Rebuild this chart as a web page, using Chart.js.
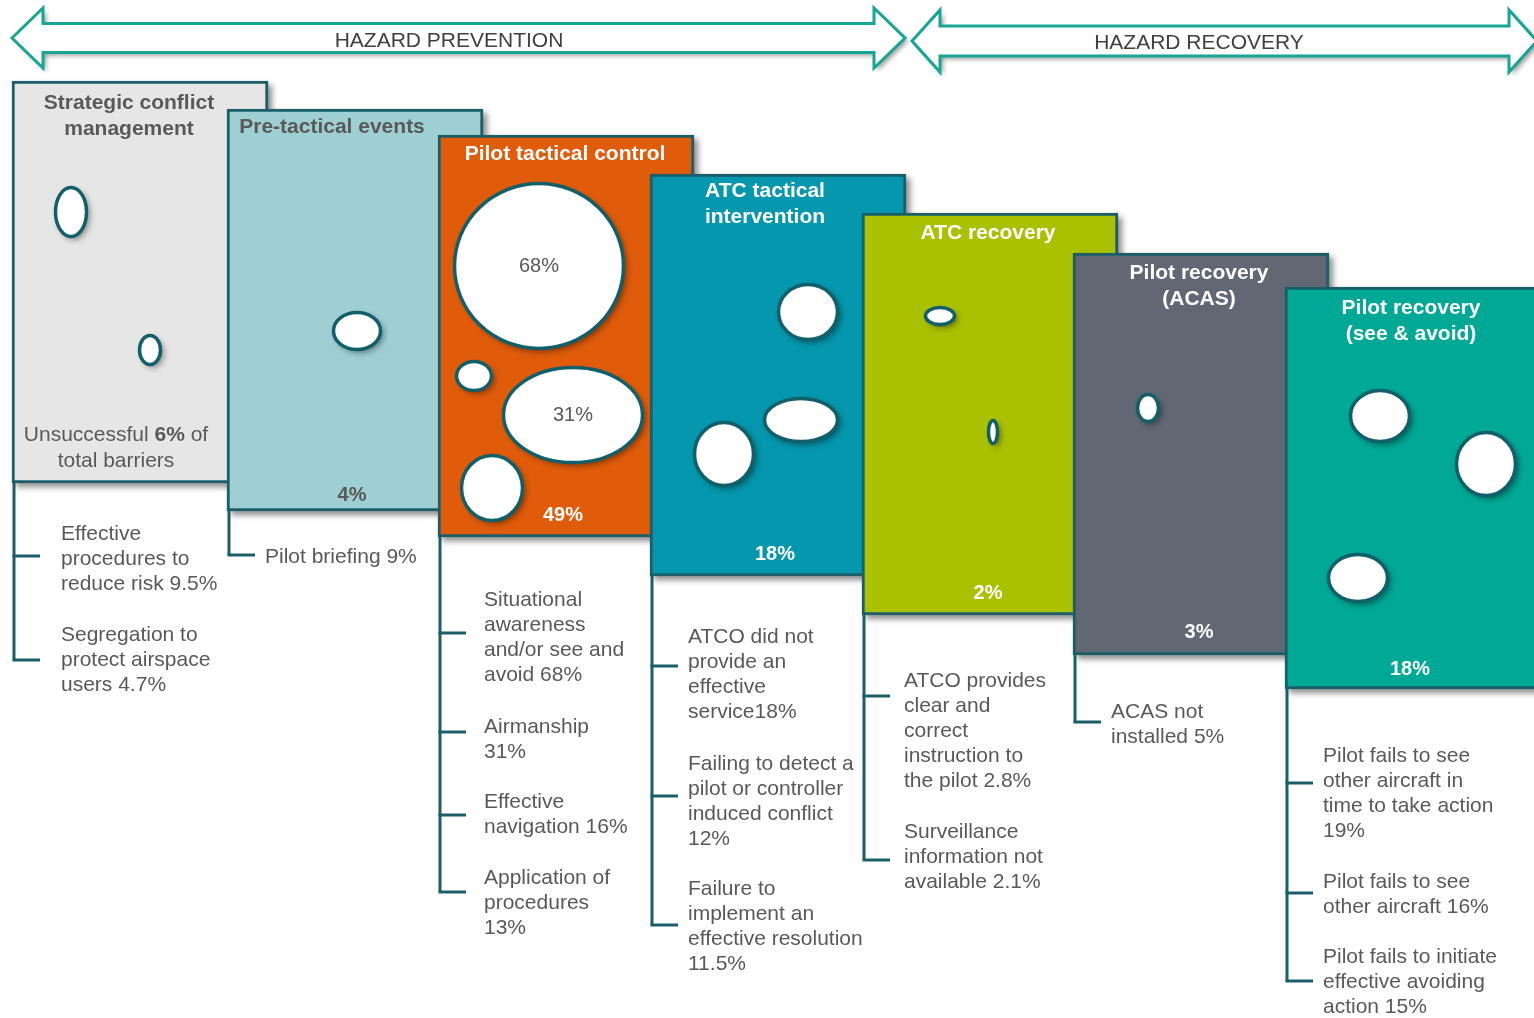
<!DOCTYPE html>
<html>
<head>
<meta charset="utf-8">
<title>Safety barriers</title>
<script src="https://cdn.jsdelivr.net/npm/chart.js@4.4.0/dist/chart.umd.min.js"></script>
<style>
  html, body { margin: 0; padding: 0; background: #fff; }
  #wrap { width: 1534px; height: 1018px; position: relative; }
</style>
</head>
<body>
<div id="wrap"><canvas id="barrierChart"></canvas></div>
<script>
// Barriers, their share of total failures and the contributing factors below each one
const barrierTitles = [
  ['Strategic conflict', 'management'],
  ['Pre-tactical events'],
  ['Pilot tactical control'],
  ['ATC tactical', 'intervention'],
  ['ATC recovery'],
  ['Pilot recovery', '(ACAS)'],
  ['Pilot recovery', '(see & avoid)']
];
const barrierShares = [6, 4, 49, 18, 2, 3, 18];
const barrierColors = ['#e6e6e6', '#9ecfd3', '#e05c0b', '#0597ad', '#a9c100', '#626873', '#00a896'];
const barrierTextColors = ['#595959', '#595959', '#fff', '#fff', '#fff', '#fff', '#fff'];

const barrierFactors = [
  [['Effective', 'procedures to', 'reduce risk 9.5%'], ['Segregation to', 'protect airspace', 'users 4.7%']],
  [['Pilot briefing 9%']],
  [['Situational', 'awareness', 'and/or see and', 'avoid 68%'], ['Airmanship', '31%'], ['Effective', 'navigation 16%'], ['Application of', 'procedures', '13%']],
  [['ATCO did not', 'provide an', 'effective', 'service18%'], ['Failing to detect a', 'pilot or controller', 'induced conflict', '12%'], ['Failure to', 'implement an', 'effective resolution', '11.5%']],
  [['ATCO provides', 'clear and', 'correct', 'instruction to', 'the pilot 2.8%'], ['Surveillance', 'information not', 'available 2.1%']],
  [['ACAS not', 'installed 5%']],
  [['Pilot fails to see', 'other aircraft in', 'time to take action', '19%'], ['Pilot fails to see', 'other aircraft 16%'], ['Pilot fails to initiate', 'effective avoiding', 'action 15%']]
];

// bubbles: barrier index, centre, horizontal / vertical radius, optional label
const bubbleBarrier = [0, 0, 1, 2, 2, 2, 2, 3, 3, 3, 4, 4, 5, 6, 6, 6];
const bubbleX = [71, 150, 357, 539, 474, 573, 492, 808, 801, 724, 940, 993, 1148, 1380, 1486, 1358];
const bubbleY = [212, 350, 331, 266, 376, 415, 488, 312, 420, 454, 316, 432, 408, 416, 464, 578];
const bubbleRx = [17, 12, 25, 86, 19, 71, 32, 31, 38, 31, 16, 6, 12, 31, 31, 31];
const bubbleRy = [26, 16, 20, 84, 16, 49, 34, 29, 23, 33, 10, 13, 15, 27, 33, 25];
const bubbleLabels = ['', '', '', '68%', '', '31%', '', '', '', '', '', '', '', '', '', ''];

// panel layout
const panelLeft = [12, 227, 438, 650, 862, 1073, 1285];
const panelTop = [81, 109, 135, 174, 213, 253, 287];
const panelWidth = 256;
const panelHeight = 402;
const titleY = [103, 127, 154, 191, 233, 273, 308];
const titleX = [129, 332, 565, 765, 988, 1199, 1411];
const shareX = [116, 352, 563, 775, 988, 1199, 1410];
const shareY = [435, 495, 515, 554, 593, 632, 669];
const factorTextX = [61, 265, 484, 688, 904, 1111, 1323];
const factorTextY = [[534, 635], [557], [600, 727, 802, 878], [637, 764, 889], [681, 832], [712], [756, 882, 957]];
const factorTickY = [[556, 660], [555], [633, 732, 815, 892], [666, 796, 925], [696, 860], [722], [783, 893, 981]];

const BORDER = '#1a5e6a';
const FONT = '"Liberation Sans", Arial, sans-serif';
const LINE_H = 25;

function bubbleImage(rx, ry) {
  const pad = 12;
  const c = document.createElement('canvas');
  c.width = 2 * (rx + pad);
  c.height = 2 * (ry + pad);
  const g = c.getContext('2d');
  g.save();
  g.shadowColor = 'rgba(0,0,0,0.45)';
  g.shadowBlur = 6;
  g.shadowOffsetX = 3;
  g.shadowOffsetY = 3;
  g.beginPath();
  g.ellipse(rx + pad, ry + pad, rx - 1.5, ry - 1.5, 0, 0, Math.PI * 2);
  g.fillStyle = '#fff';
  g.fill();
  g.restore();
  g.lineWidth = 3.5;
  g.strokeStyle = '#115f69';
  g.stroke();
  return c;
}
const bubbleImages = bubbleRx.map((rx, i) => bubbleImage(rx, bubbleRy[i]));

function drawArrow(ctx, x0, x1, yc, headHalf, bodyHalf, headLen) {
  ctx.save();
  ctx.beginPath();
  ctx.moveTo(x0, yc);
  ctx.lineTo(x0 + headLen, yc - headHalf);
  ctx.lineTo(x0 + headLen, yc - bodyHalf);
  ctx.lineTo(x1 - headLen, yc - bodyHalf);
  ctx.lineTo(x1 - headLen, yc - headHalf);
  ctx.lineTo(x1, yc);
  ctx.lineTo(x1 - headLen, yc + headHalf);
  ctx.lineTo(x1 - headLen, yc + bodyHalf);
  ctx.lineTo(x0 + headLen, yc + bodyHalf);
  ctx.lineTo(x0 + headLen, yc + headHalf);
  ctx.closePath();
  ctx.shadowColor = 'rgba(0,0,0,0.4)';
  ctx.shadowBlur = 5;
  ctx.shadowOffsetX = 3;
  ctx.shadowOffsetY = 3;
  ctx.fillStyle = '#fff';
  ctx.fill();
  ctx.shadowColor = 'transparent';
  ctx.lineWidth = 3;
  ctx.lineJoin = 'miter';
  ctx.strokeStyle = '#17a596';
  ctx.stroke();
  ctx.restore();
}

function text(ctx, str, x, y, font, color, align) {
  ctx.font = font;
  ctx.fillStyle = color;
  ctx.textAlign = align || 'center';
  ctx.textBaseline = 'middle';
  ctx.fillText(str, x, y);
}

const decorPlugin = {
  id: 'decor',
  beforeDatasetsDraw(chart) {
    const ctx = chart.ctx;
    const xs = chart.scales.x, ys = chart.scales.y;
    // direction arrows
    drawArrow(ctx, xs.getPixelForValue(12), xs.getPixelForValue(905), ys.getPixelForValue(38), 30, 14.5, 31);
    drawArrow(ctx, xs.getPixelForValue(912), xs.getPixelForValue(1537), ys.getPixelForValue(41), 31, 15, 28);
    text(ctx, 'HAZARD PREVENTION', xs.getPixelForValue(449), ys.getPixelForValue(41), '21px ' + FONT, '#404040');
    text(ctx, 'HAZARD RECOVERY', xs.getPixelForValue(1199), ys.getPixelForValue(43), '21px ' + FONT, '#404040');

    // panel drop shadows, drawn before every panel so overlaps stay clean
    const bars = chart.getDatasetMeta(1).data;
    ctx.save();
    ctx.shadowColor = 'rgba(0,0,0,0.45)';
    ctx.shadowBlur = 6;
    ctx.shadowOffsetX = 4;
    ctx.shadowOffsetY = 4;
    ctx.fillStyle = '#fff';
    bars.forEach(b => {
      const p = b.getProps(['x', 'y', 'base', 'width']);
      ctx.fillRect(p.x - p.width / 2, Math.min(p.y, p.base), p.width, Math.abs(p.base - p.y));
    });
    ctx.restore();

    // factor brackets and lists
    ctx.save();
    ctx.strokeStyle = BORDER;
    ctx.lineWidth = 3;
    barrierFactors.forEach((items, i) => {
      const bx = xs.getPixelForValue(panelLeft[i] + 2);
      const ticks = factorTickY[i];
      ctx.beginPath();
      ctx.moveTo(bx, ys.getPixelForValue(panelTop[i] + panelHeight));
      ctx.lineTo(bx, ys.getPixelForValue(ticks[ticks.length - 1]));
      ctx.stroke();
      ticks.forEach(t => {
        ctx.beginPath();
        ctx.moveTo(bx - 1.5, ys.getPixelForValue(t));
        ctx.lineTo(bx + 26, ys.getPixelForValue(t));
        ctx.stroke();
      });
      items.forEach((lines, k) => {
        lines.forEach((ln, j) => {
          text(ctx, ln, xs.getPixelForValue(factorTextX[i]), ys.getPixelForValue(factorTextY[i][k] + j * LINE_H),
            '21px ' + FONT, '#595959', 'left');
        });
      });
    });
    ctx.restore();
  },
  afterDatasetDraw(chart, args) {
    if (args.index !== 1) return;
    const ctx = chart.ctx;
    const xs = chart.scales.x, ys = chart.scales.y;
    // panel titles and totals
    barrierTitles.forEach((lines, i) => {
      lines.forEach((ln, j) => {
        text(ctx, ln, xs.getPixelForValue(titleX[i]), ys.getPixelForValue(titleY[i] + j * 26),
          'bold 21px ' + FONT, barrierTextColors[i]);
      });
      if (i > 0) {
        text(ctx, barrierShares[i] + '%', xs.getPixelForValue(shareX[i]),
          ys.getPixelForValue(shareY[i]), 'bold 20px ' + FONT, barrierTextColors[i]);
      }
    });
    // first panel states its total inside a sentence
    const y1 = ys.getPixelForValue(shareY[0]), y2 = ys.getPixelForValue(shareY[0] + 26);
    const cx = xs.getPixelForValue(shareX[0]);
    const parts = [['Unsuccessful ', '21px '], [barrierShares[0] + '%', 'bold 21px '], [' of', '21px ']];
    let total = 0;
    parts.forEach(p => { ctx.font = p[1] + FONT; total += ctx.measureText(p[0]).width; });
    let x = cx - total / 2;
    parts.forEach(p => {
      text(ctx, p[0], x, y1, p[1] + FONT, '#595959', 'left');
      ctx.font = p[1] + FONT;
      x += ctx.measureText(p[0]).width;
    });
    text(ctx, 'total barriers', cx, y2, '21px ' + FONT, '#595959');
  },
  afterDatasetsDraw(chart) {
    const ctx = chart.ctx;
    const pts = chart.getDatasetMeta(0).data;
    bubbleLabels.forEach((lbl, i) => {
      if (lbl) text(ctx, lbl, pts[i].x, pts[i].y, '20px ' + FONT, '#595959');
    });
  }
};

const bubblePoints = bubbleX.map((x, i) => ({ x: x, y: bubbleY[i] }));
const panelBars = panelLeft.map((l, i) => ({ x: l + panelWidth / 2, y: [panelTop[i] + panelHeight, panelTop[i]] }));

new Chart(document.getElementById('barrierChart'), {
  data: {
    datasets: [
      {
        type: 'scatter',
        label: 'Failures',
        data: bubblePoints,
        order: 1,
        pointStyle: ctx => bubbleImages[ctx.dataIndex],
        pointRadius: ctx => Math.max(bubbleRx[ctx.dataIndex], bubbleRy[ctx.dataIndex]),
        clip: false
      },
      {
        type: 'bar',
        label: 'Barriers',
        data: panelBars,
        order: 2,
        backgroundColor: barrierColors,
        borderColor: BORDER,
        borderWidth: 3,
        borderSkipped: false,
        barThickness: panelWidth,
        clip: false
      }
    ]
  },
  options: {
    responsive: true,
    maintainAspectRatio: false,
    animation: false,
    events: [],
    layout: { padding: 0, autoPadding: false },
    plugins: { legend: { display: false }, tooltip: { enabled: false } },
    scales: {
      x: { type: 'linear', min: 0, max: 1534, offset: false, display: false },
      y: { type: 'linear', min: 0, max: 1018, reverse: true, offset: false, display: false }
    }
  },
  plugins: [decorPlugin]
});
</script>
</body>
</html>
